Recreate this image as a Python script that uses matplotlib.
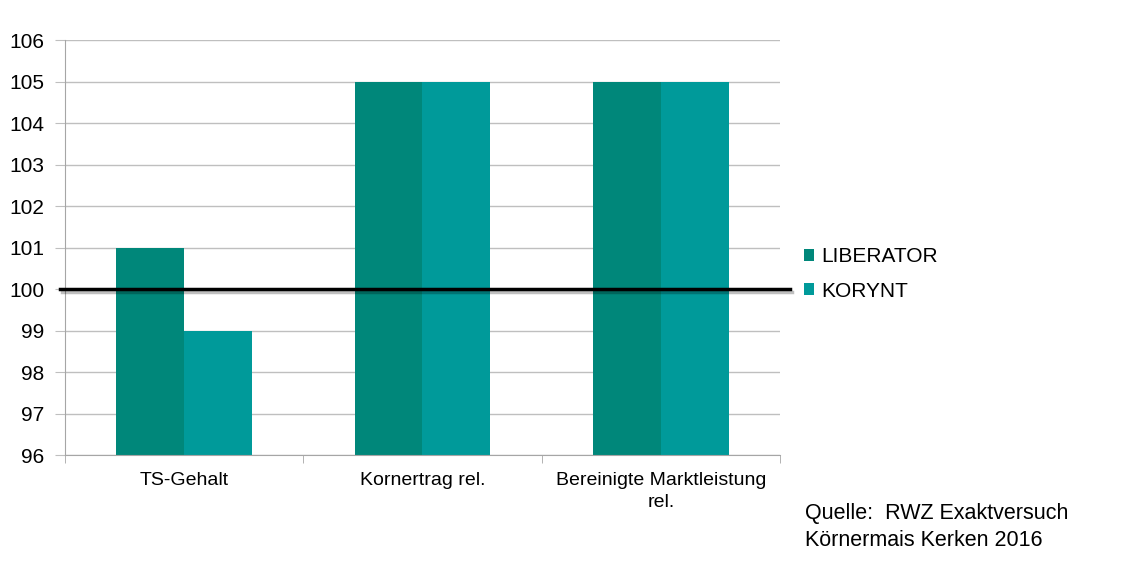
import numpy as np
import matplotlib
matplotlib.use("Agg")
import matplotlib.pyplot as plt
import matplotlib.patheffects as pe
from matplotlib.patches import Patch

# Data
categories = ["TS-Gehalt", "Kornertrag rel.", "Bereinigte Marktleistung\nrel."]
series_names = ["LIBERATOR", "KORYNT"]
liberator = [101, 105, 105]
korynt = [99, 105, 105]
colors = ["#00877A", "#009A9A"]
baseline = 100

plt.rcParams['font.family'] = ['Liberation Sans', 'DejaVu Sans']

fig = plt.figure(figsize=(11.4, 5.87), dpi=100, facecolor='white')
ax = fig.add_axes([65/1140, 1 - 455/587, (780-65)/1140, (455-40)/587])

x = np.arange(len(categories))
w = 0.285
ax.bar(x - w/2, np.array(liberator) - 96, w, bottom=96, color=colors[0], zorder=2)
ax.bar(x + w/2, np.array(korynt) - 96, w, bottom=96, color=colors[1], zorder=2)

ax.set_xlim(-0.5, 2.5)
ax.set_ylim(96, 106)
ax.set_yticks(np.arange(96, 107, 1))
ax.yaxis.grid(True, color='#BFBFBF', linewidth=1, zorder=0)
ax.tick_params(axis='y', length=7, color='#BFBFBF', labelsize=15, pad=8)

ax.set_xticks(x)
ax.set_xticklabels(categories, fontsize=14, linespacing=1.4)
ax.tick_params(axis='x', which='major', length=0, pad=12)
ax.set_xticks([-0.5, 0.5, 1.5, 2.5], minor=True)
ax.tick_params(axis='x', which='minor', length=6, color='#A6A6A6')

for s in ['top', 'right']:
    ax.spines[s].set_visible(False)
for s in ['left', 'bottom']:
    ax.spines[s].set_color('#A6A6A6')

# baseline at 100 with shadow
ax.plot([-0.52, 2.54], [baseline, baseline], color='black', linewidth=2.5,
        clip_on=False, zorder=5,
        path_effects=[pe.SimpleLineShadow(offset=(1.5, -2), alpha=0.25), pe.Normal()])

handles = [Patch(facecolor=c, edgecolor='none') for c in colors]
fig.legend(handles, series_names, loc='center left', bbox_to_anchor=(785/1140, 1 - 274/587),
           frameon=False, fontsize=15, handlelength=0.5, handleheight=0.5,
           handletextpad=0.35, labelspacing=0.75)

fig.text(805/1140, 1 - 514/587, "Quelle:  RWZ Exaktversuch", fontsize=15.5, va='center')
fig.text(805/1140, 1 - 541/587, "Körnermais Kerken 2016", fontsize=15.5, va='center')

plt.savefig('out.png', dpi=100, facecolor='white')
